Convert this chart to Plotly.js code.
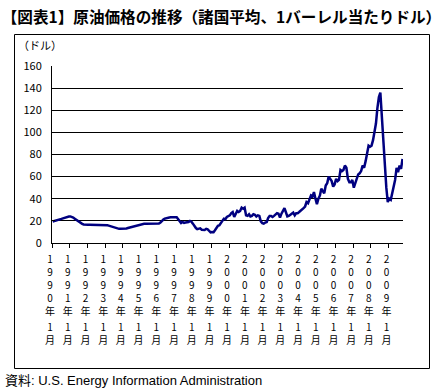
<!DOCTYPE html>
<html><head><meta charset="utf-8">
<script src="https://cdn.plot.ly/plotly-3.0.1.min.js"></script>
<style>html,body{margin:0;padding:0;background:#fff;}#chart{width:443px;height:391px;}</style>
</head><body><div id="chart"></div>
<script>
// Monthly average price (USD per barrel)
const startYear = 1990;
const p1990 = [19.5, 19.8, 20.2, 20.6, 21.0, 21.4, 21.8, 22.3, 22.8, 23.3, 23.7, 24.0];
const p1991 = [24.0, 23.8, 23.0, 22.0, 21.0, 20.0, 19.0, 18.0, 17.3, 16.8, 16.5, 16.5];
const p1992 = [16.5, 16.5, 16.5, 16.5, 16.5, 16.5, 16.5, 16.5, 16.5, 16.5, 16.5, 16.4];
const p1993 = [16.3, 16.0, 15.7, 15.2, 14.8, 14.3, 13.8, 13.4, 13.0, 12.8, 12.8, 12.8];
const p1994 = [12.8, 12.9, 13.2, 13.6, 14.0, 14.4, 14.8, 15.2, 15.6, 16.0, 16.4, 16.8];
const p1995 = [17.1, 17.3, 17.4, 17.4, 17.4, 17.4, 17.4, 17.4, 17.4, 17.4, 17.4, 17.4];
const p1996 = [17.6, 18.5, 20.0, 21.2, 22.0, 22.6, 23.0, 23.1, 23.2, 23.2, 23.2, 23.2];
const p1997 = [23.3, 21.5, 19.5, 18.0, 19.0, 18.2, 18.5, 18.8, 19.0, 20.0, 19.3, 17.5];
const p1998 = [15.0, 13.5, 12.5, 13.0, 13.2, 12.0, 12.2, 11.8, 12.8, 12.3, 11.0, 9.7];
const p1999 = [10.0, 9.8, 11.5, 14.0, 15.5, 16.0, 18.5, 20.0, 22.0, 21.5, 23.5, 24.5];
const p2000 = [25.0, 27.0, 28.0, 23.5, 26.0, 29.0, 28.0, 29.0, 32.0, 31.0, 32.0, 25.0];
const p2001 = [24.5, 26.0, 24.0, 24.5, 26.0, 25.5, 24.0, 25.0, 24.5, 19.5, 18.0, 17.5];
const p2002 = [18.5, 19.0, 22.5, 24.5, 24.5, 23.5, 24.5, 25.5, 27.0, 26.5, 23.0, 26.5];
const p2003 = [29.5, 31.5, 28.0, 24.0, 24.5, 26.0, 26.5, 27.5, 25.0, 27.0, 27.0, 28.0];
const p2004 = [29.0, 30.0, 31.5, 33.0, 37.0, 36.0, 39.0, 43.0, 42.0, 46.0, 40.0, 35.0];
const p2005 = [40.0, 43.0, 49.0, 47.0, 45.0, 52.0, 54.0, 60.0, 58.0, 56.0, 51.0, 53.0];
const p2006 = [58.0, 56.0, 57.0, 66.0, 65.0, 66.0, 70.0, 68.0, 58.0, 55.0, 55.0, 57.0];
const p2007 = [50.0, 54.0, 58.0, 62.0, 63.0, 65.0, 70.0, 68.0, 74.0, 82.0, 88.0, 87.0];
const p2008 = [88.0, 93.0, 100.0, 108.0, 122.0, 132.0, 136.0, 112.0, 98.0, 68.0, 50.0, 37.0];
const p2009 = [40.0, 39.0, 45.0, 49.0, 57.0, 68.0, 64.0, 70.0, 67.0, 76.0];

const prices = [].concat(p1990,p1991,p1992,p1993,p1994,p1995,p1996,p1997,p1998,p1999,
  p2000,p2001,p2002,p2003,p2004,p2005,p2006,p2007,p2008,p2009);
const dates = prices.map((v,i)=>{
  const y = startYear + Math.floor(i/12), m = i%12 + 1;
  return y + '-' + String(m).padStart(2,'0') + '-15';
});

const tickYears = [1990,1991,1992,1993,1994,1995,1996,1997,1998,1999,2000,2001,2002,2003,2004,2005,2006,2007,2008,2009];
const tickVals = tickYears.map(y => y + '-01-01');
const yearText = tickYears.map(y => String(y).split('').join('<br>') + '<br>年');
const monthText = tickYears.map(() => '1<br>月');
const yTicks = [0,20,40,60,80,100,120,140,160];
const gridTicks = [20,40,60,80,100,120,140];

const jp = '"Noto Sans CJK JP", sans-serif';
const xRange = ['1990-01-01', '2009-10-25'];

const trace = {
  x: dates, y: prices, type: 'scatter', mode: 'lines',
  line: {color: '#000080', width: 2.5}, hoverinfo: 'skip'
};

// outer frame edges in paper units
const fl = (14.5-52)/351, fr = (429.5-52)/351, ft = (243-34.5)/177, fb = (243-368.5)/177;
const frameLine = {color: '#000000', width: 1};

const layout = {
  width: 443, height: 391,
  margin: {l: 52, r: 40, t: 66, b: 148},
  paper_bgcolor: '#fff', plot_bgcolor: 'rgba(0,0,0,0)',
  showlegend: false,
  font: {family: jp, color: '#000', size: 11},
  title: {
    text: '<b>【図表1】原油価格の推移（諸国平均、1バーレル当たりドル）</b>',
    font: {family: jp, size: 15.6, color: '#000'},
    x: 0.004, xref: 'container', xanchor: 'left',
    y: 1 - 18/391, yref: 'container', yanchor: 'middle'
  },
  xaxis: {
    type: 'date', range: xRange,
    tickmode: 'array', tickvals: tickVals, ticktext: yearText,
    ticks: 'outside', ticklen: 4, tickcolor: '#000', tickwidth: 1,
    showline: true, linecolor: '#000', linewidth: 1,
    showgrid: false, zeroline: false,
    tickfont: {family: jp, size: 10, color: '#000'},
    tickangle: 0, ticklabelshift: -2, ticklabelstandoff: 3
  },
  xaxis2: {
    type: 'date', range: xRange, overlaying: 'x', anchor: 'y', side: 'bottom',
    tickmode: 'array', tickvals: tickVals, ticktext: monthText,
    ticks: '', showline: false, showgrid: false, zeroline: false,
    tickfont: {family: jp, size: 10, color: '#000'},
    tickangle: 0, ticklabelshift: -2, ticklabelstandoff: 77
  },
  yaxis: {
    range: [0, 160], tickmode: 'array', tickvals: yTicks,
    ticks: 'inside', ticklen: 3, tickcolor: '#000',
    showline: true, linecolor: '#000', linewidth: 1,
    showgrid: false, zeroline: false,
    tickfont: {family: jp, size: 11, color: '#000'},
    ticklabelstandoff: 7
  },
  yaxis2: {
    range: [0, 160], overlaying: 'y', anchor: 'x', side: 'left',
    tickmode: 'array', tickvals: gridTicks, showticklabels: false,
    ticks: '', showline: false, showgrid: true, gridcolor: '#000', gridwidth: 1,
    zeroline: false
  },
  shapes: [
    {type: 'line', xref: 'paper', yref: 'paper', x0: fl, x1: fr, y0: ft, y1: ft, line: frameLine},
    {type: 'line', xref: 'paper', yref: 'paper', x0: fl, x1: fr, y0: fb, y1: fb, line: frameLine},
    {type: 'line', xref: 'paper', yref: 'paper', x0: fl, x1: fl, y0: fb, y1: ft, line: frameLine},
    {type: 'line', xref: 'paper', yref: 'paper', x0: fr, x1: fr, y0: fb, y1: ft, line: frameLine}
  ],
  annotations: [
    {text: '（ドル）', xref: 'paper', yref: 'paper', x: (16-52)/351, y: (243-45)/177,
     xanchor: 'left', yanchor: 'middle', showarrow: false,
     font: {family: jp, size: 11, color: '#000'}},
    {text: '資料: U.S. Energy Information Administration', xref: 'paper', yref: 'paper',
     x: (3-52)/351, y: (243-380)/177, xanchor: 'left', yanchor: 'middle', showarrow: false,
     font: {family: '"Liberation Sans", "Noto Sans CJK JP", sans-serif', size: 13, color: '#000'}}
  ]
};

const dummy = {x: [dates[0]], y: [null], xaxis: 'x2', yaxis: 'y2', type: 'scatter', mode: 'lines', hoverinfo: 'skip'};

Plotly.newPlot('chart', [trace, dummy], layout, {staticPlot: true, displayModeBar: false});
</script>
</body></html>
